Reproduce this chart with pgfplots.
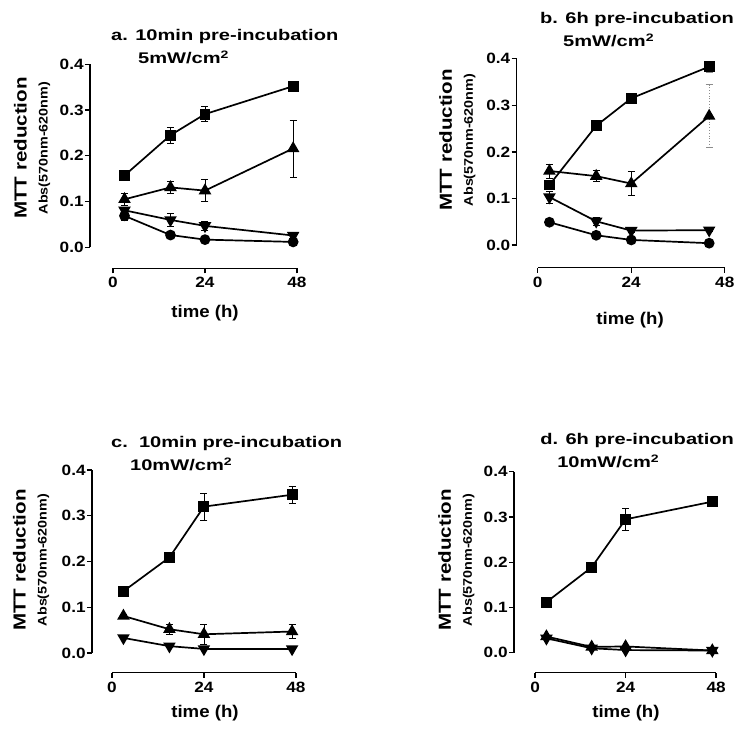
\documentclass[border=0pt]{standalone}
\usepackage{fontspec}
\setmainfont{Liberation Sans}
\usepackage{graphicx}
\usepackage{pgfplots}
\pgfplotsset{compat=1.18}
\newcommand\sx[2][1.15]{\scalebox{#1}[1]{#2}}
\pgfplotsset{
  mtt/.style={
    anchor=south west, clip=false,
    axis x line*=bottom, axis y line*=left,
    xmax=48, ymax=0.4,
    xtick={0,24,48}, xticklabels={\sx{0},\sx{24},\sx{48}},
    ytick={0,0.1,0.2,0.3,0.4}, yticklabels={\sx{0.0},\sx{0.1},\sx{0.2},\sx{0.3},\sx{0.4}},
    tick align=outside, major tick length=5bp, minor tick num=0,
    every tick/.style={black, line width=1.3bp},
    axis line style={black, line width=1.5bp, -},
    tick label style={font=\fontsize{15}{15}\selectfont\bfseries, inner sep=1.2bp},
    xticklabel style={yshift=-2.5bp},
    xlabel={\sx[1.1]{time (h)}},
    xlabel style={font=\fontsize{17}{17}\selectfont\bfseries, anchor=center},
    ylabel={\sx[1.18]{MTT reduction}\\{\fontsize{12.5}{21}\selectfont\sx[1.15]{Abs(570nm-620nm)}}},
    ylabel style={font=\fontsize{17.5}{21}\selectfont\bfseries, align=center, anchor=center},
    title style={font=\fontsize{15.5}{23}\selectfont\bfseries, align=left, anchor=north west, inner sep=0pt},
    every axis plot/.append style={black, line width=1.7bp},
  },
  sq/.style={mark=square*, mark size=4.6bp, mark options={solid, fill=black}},
  tu/.style={mark=triangle*, mark size=5.6bp, mark options={solid, fill=black}},
  td/.style={mark=triangle*, mark size=5.6bp, mark options={solid, fill=black, rotate=180}},
  ci/.style={mark=*, mark size=4.5bp, mark options={solid, fill=black}},
  eb/.style={error bars/.cd, y dir=both, y explicit,
    error bar style={line width=0.7bp, black, solid},
    error mark options={rotate=90, mark size=3.5bp, line width=0.7bp, black, solid}},
  ebg/.style={error bars/.cd, y dir=both, y explicit,
    error bar style={line width=0.8bp, black!45, dotted},
    error mark options={rotate=90, mark size=3.5bp, line width=0.8bp, black!45, solid}},
}
\begin{document}
\begin{tikzpicture}
\useasboundingbox (0,0) rectangle (737bp,731bp);
% ---------- panel a ----------
\begin{axis}[mtt, at={(90bp,462.7bp)}, x=3.833bp, y=458bp, xmin=-6, ymin=-0.0456,
  x axis line style={shorten <=23bp}, y axis line style={shorten <=20.9bp},
  title={\sx[1.3]{a. 10min pre-incubation}\\\hspace*{27bp}\sx[1.3]{5mW/cm\textsuperscript{2}}},
  title style={at={(axis description cs:0.101,1.142)}},
  xlabel style={at={(axis description cs:0.556,-0.222)}},
  ylabel style={at={(axis description cs:-0.280,0.589)}}]
\addplot[black, sq, eb] coordinates {(3,0.157) +- (0,0.010) (15,0.245) +- (0,0.018) (24,0.291) +- (0,0.016) (47,0.352) +- (0,0.006)};
\addplot[black, tu, eb] coordinates {(3,0.105) +- (0,0.013) (15,0.131) +- (0,0.014) (24,0.124) +- (0,0.024) (47,0.216) +- (0,0.062)};
\addplot[black, td, eb] coordinates {(3,0.081) +- (0,0.006) (15,0.060) +- (0,0.015) (24,0.047) +- (0,0.010) (47,0.026) +- (0,0.006)};
\addplot[black, ci, eb] coordinates {(3,0.069) +- (0,0.009) (15,0.027) +- (0,0.004) (24,0.017) +- (0,0.003) (47,0.012) +- (0,0.003)};
\end{axis}
% ---------- panel b ----------
\begin{axis}[mtt, at={(516.7bp,463.3bp)}, x=3.896bp, y=465.8bp, xmin=-5.4, ymin=-0.0486,
  x axis line style={shorten <=21bp}, y axis line style={shorten <=22.6bp},
  title={\sx[1.3]{b. 6h pre-incubation}\\\hspace*{23bp}\sx[1.3]{5mW/cm\textsuperscript{2}}},
  title style={at={(axis description cs:0.112,1.194)}},
  xlabel style={at={(axis description cs:0.545,-0.250)}},
  ylabel style={at={(axis description cs:-0.285,0.611)}}]
\addplot[forget plot, only marks, mark=none, ebg] coordinates {(44,0.383) +- (0,0.012) (44,0.277) +- (0,0.067)};
\addplot[black, sq, eb] coordinates {(3,0.129) +- (0,0.010) (15,0.256) +- (0,0.008) (24,0.315) +- (0,0.009) (44,0.383) +- (0,0.0)};
\addplot[black, tu, eb] coordinates {(3,0.159) +- (0,0.015) (15,0.148) +- (0,0.012) (24,0.132) +- (0,0.026) (44,0.277) +- (0,0.0)};
\addplot[black, td, eb] coordinates {(3,0.103) +- (0,0.013) (15,0.051) +- (0,0.008) (24,0.031) +- (0,0.004) (44,0.032) +- (0,0.003)};
\addplot[black, ci, eb] coordinates {(3,0.049) +- (0,0.003) (15,0.021) +- (0,0.002) (24,0.011) +- (0,0.002) (44,0.004) +- (0,0.002)};
\end{axis}
% ---------- panel c ----------
\begin{axis}[mtt, at={(92bp,58.3bp)}, x=3.833bp, y=457.5bp, xmin=-5.2, ymin=-0.043,
  x axis line style={shorten <=19.9bp}, y axis line style={shorten <=19.7bp},
  title={\sx[1.3]{c.\ \ 10min pre-incubation}\\\hspace*{19bp}\sx[1.3]{10mW/cm\textsuperscript{2}}},
  title style={at={(axis description cs:0.093,1.138)}},
  xlabel style={at={(axis description cs:0.554,-0.197)}},
  ylabel style={at={(axis description cs:-0.299,0.556)}}]
\addplot[black, sq, eb] coordinates {(3,0.135) +- (0,0.005) (15,0.209) +- (0,0.004) (24,0.320) +- (0,0.029) (47,0.346) +- (0,0.018)};
\addplot[black, tu, eb] coordinates {(3,0.081) +- (0,0.003) (15,0.052) +- (0,0.011) (24,0.041) +- (0,0.022) (47,0.047) +- (0,0.016)};
\addplot[black, td, eb] coordinates {(3,0.033) +- (0,0.002) (15,0.015) +- (0,0.002) (24,0.009) +- (0,0.002) (47,0.009) +- (0,0.002)};
\end{axis}
% ---------- panel d ----------
\begin{axis}[mtt, at={(514bp,58.3bp)}, x=3.77bp, y=452.5bp, xmin=-5.6, ymin=-0.044,
  x axis line style={shorten <=21.1bp}, y axis line style={shorten <=19.9bp},
  title={\sx[1.3]{d. 6h pre-incubation}\\\hspace*{17bp}\sx[1.3]{10mW/cm\textsuperscript{2}}},
  title style={at={(axis description cs:0.129,1.163)}},
  xlabel style={at={(axis description cs:0.554,-0.203)}},
  ylabel style={at={(axis description cs:-0.285,0.561)}}]
\addplot[black, sq, eb] coordinates {(3,0.112) +- (0,0.003) (15,0.189) +- (0,0.003) (24,0.295) +- (0,0.024) (47,0.334) +- (0,0.003)};
\addplot[black, tu, eb] coordinates {(3,0.036) +- (0,0.002) (15,0.013) +- (0,0.002) (24,0.014) +- (0,0.002) (47,0.005) +- (0,0.002)};
\addplot[black, td, eb] coordinates {(3,0.032) +- (0,0.002) (15,0.010) +- (0,0.002) (24,0.006) +- (0,0.002) (47,0.005) +- (0,0.002)};
\end{axis}
\end{tikzpicture}
\end{document}
